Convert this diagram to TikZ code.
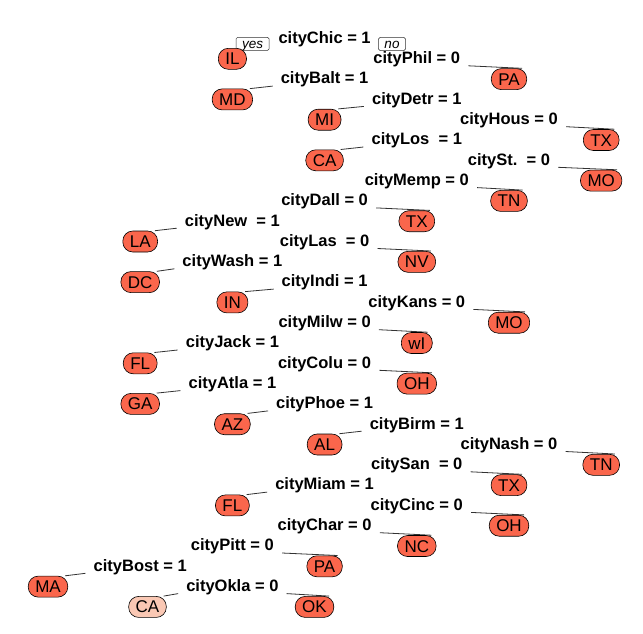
\documentclass[tikz,border=0pt]{standalone}
\usepackage{fontspec}
\setmainfont{Liberation Sans}
\usetikzlibrary{backgrounds}
\definecolor{leafred}{RGB}{250,102,76}
\definecolor{leaflight}{RGB}{250,200,180}
\definecolor{connc}{RGB}{50,50,50}
\tikzset{
  splitlab/.style={font=\fontsize{16.5}{16.5}\selectfont\bfseries, text height=12pt, text depth=0pt, inner xsep=8pt, inner ysep=2pt},
  leafbox/.style={draw=black, line width=0.6pt, fill=leafred, rounded corners=10pt, font=\fontsize{17}{17}\selectfont, text height=12pt, text depth=0pt, inner xsep=7pt, inner ysep=4.5pt, yshift=-1.2pt},
  leaflt/.style={leafbox, fill=leaflight},
  ynbox/.style={draw=black!80, line width=0.5pt, fill=white, rounded corners=1.5pt, font=\fontsize{13.5}{13.5}\selectfont\itshape, text height=9.5pt, text depth=0pt, inner xsep=6pt, inner ysep=1.8pt},
  conn/.style={draw=connc, line width=0.8pt}
}
\begin{document}
\begin{tikzpicture}[x=1pt,y=-1pt]
\path[use as bounding box] (0,0) rectangle (643,633);
% split labels
\node[splitlab] (s1) at (324.6,37.3) {cityChic = 1};
\node[splitlab] (s2) at (416.8,57.6) {cityPhil = 0};
\node[splitlab] (s3) at (324.6,77.9) {cityBalt = 1};
\node[splitlab] (s4) at (416.8,98.2) {cityDetr = 1};
\node[splitlab] (s5) at (509,118.5) {cityHous = 0};
\node[splitlab] (s6) at (416.8,138.8) {cityLos\ \ = 1};
\node[splitlab] (s7) at (509,159.1) {citySt.\ \ = 0};
\node[splitlab] (s8) at (416.8,179.4) {cityMemp = 0};
\node[splitlab] (s9) at (324.6,199.7) {cityDall = 0};
\node[splitlab] (s10) at (232.4,220) {cityNew\ \ = 1};
\node[splitlab] (s11) at (324.6,240.3) {cityLas\ \ = 0};
\node[splitlab] (s12) at (232.4,260.6) {cityWash = 1};
\node[splitlab] (s13) at (324.6,280.9) {cityIndi = 1};
\node[splitlab] (s14) at (416.8,301.2) {cityKans = 0};
\node[splitlab] (s15) at (324.6,321.5) {cityMilw = 0};
\node[splitlab] (s16) at (232.4,341.8) {cityJack = 1};
\node[splitlab] (s17) at (324.6,362.1) {cityColu = 0};
\node[splitlab] (s18) at (232.4,382.4) {cityAtla = 1};
\node[splitlab] (s19) at (324.6,402.7) {cityPhoe = 1};
\node[splitlab] (s20) at (416.8,423) {cityBirm = 1};
\node[splitlab] (s21) at (509,443.3) {cityNash = 0};
\node[splitlab] (s22) at (416.8,463.6) {citySan\ \ = 0};
\node[splitlab] (s23) at (324.6,483.9) {cityMiam = 1};
\node[splitlab] (s24) at (416.8,504.2) {cityCinc = 0};
\node[splitlab] (s25) at (324.6,524.5) {cityChar = 0};
\node[splitlab] (s26) at (232.4,544.8) {cityPitt = 0};
\node[splitlab] (s27) at (140.2,565.1) {cityBost = 1};
\node[splitlab] (s28) at (232.4,585.4) {cityOkla = 0};
% yes / no
\node[ynbox] (yes) at (252.6,43.8) {yes};
\node[ynbox] (no) at (392,44) {no};
% leaves
\node[leafbox] (f1) at (232.4,57.6) {IL};
\node[leafbox] (f2) at (509,77.9) {PA};
\node[leafbox] (f3) at (232.4,98.2) {MD};
\node[leafbox] (f4) at (324.6,118.5) {MI};
\node[leafbox] (f5) at (601.2,138.8) {TX};
\node[leafbox] (f6) at (324.6,159.1) {CA};
\node[leafbox] (f7) at (601.2,179.4) {MO};
\node[leafbox] (f8) at (509,199.7) {TN};
\node[leafbox] (f9) at (416.8,220) {TX};
\node[leafbox] (f10) at (140.2,240.3) {LA};
\node[leafbox] (f11) at (416.8,260.6) {NV};
\node[leafbox] (f12) at (140.2,280.9) {DC};
\node[leafbox] (f13) at (232.4,301.2) {IN};
\node[leafbox] (f14) at (509,321.5) {MO};
\node[leafbox] (f15) at (416.8,341.8) {wI};
\node[leafbox] (f16) at (140.2,362.1) {FL};
\node[leafbox] (f17) at (416.8,382.4) {OH};
\node[leafbox] (f18) at (140.2,402.7) {GA};
\node[leafbox] (f19) at (232.4,423) {AZ};
\node[leafbox] (f20) at (324.6,443.3) {AL};
\node[leafbox] (f21) at (601.2,463.6) {TN};
\node[leafbox] (f22) at (509,483.9) {TX};
\node[leafbox] (f23) at (232.4,504.2) {FL};
\node[leafbox] (f24) at (509,524.5) {OH};
\node[leafbox] (f25) at (416.8,544.8) {NC};
\node[leafbox] (f26) at (324.6,565.1) {PA};
\node[leafbox] (f27) at (48,585.4) {MA};
\node[leaflt] (f28a) at (147.5,605.7) {CA};
\node[leafbox] (f28b) at (314.5,605.7) {OK};
% connectors
\begin{pgfonlayer}{background}
\draw[conn] (s2.south east) -- ([xshift=-5pt]f2.north east);
\draw[conn] (s3.south west) -- ([xshift=-3pt]f3.north east);
\draw[conn] (s4.south west) -- ([xshift=-3pt]f4.north east);
\draw[conn] (s5.south east) -- ([xshift=-5pt]f5.north east);
\draw[conn] (s6.south west) -- ([xshift=-3pt]f6.north east);
\draw[conn] (s7.south east) -- ([xshift=-5pt]f7.north east);
\draw[conn] (s8.south east) -- ([xshift=-5pt]f8.north east);
\draw[conn] (s9.south east) -- ([xshift=-5pt]f9.north east);
\draw[conn] (s10.south west) -- ([xshift=-3pt]f10.north east);
\draw[conn] (s11.south east) -- ([xshift=-5pt]f11.north east);
\draw[conn] (s12.south west) -- ([xshift=-3pt]f12.north east);
\draw[conn] (s13.south west) -- ([xshift=-3pt]f13.north east);
\draw[conn] (s14.south east) -- ([xshift=-5pt]f14.north east);
\draw[conn] (s15.south east) -- ([xshift=-5pt]f15.north east);
\draw[conn] (s16.south west) -- ([xshift=-3pt]f16.north east);
\draw[conn] (s17.south east) -- ([xshift=-5pt]f17.north east);
\draw[conn] (s18.south west) -- ([xshift=-3pt]f18.north east);
\draw[conn] (s19.south west) -- ([xshift=-3pt]f19.north east);
\draw[conn] (s20.south west) -- ([xshift=-3pt]f20.north east);
\draw[conn] (s21.south east) -- ([xshift=-5pt]f21.north east);
\draw[conn] (s22.south east) -- ([xshift=-5pt]f22.north east);
\draw[conn] (s23.south west) -- ([xshift=-3pt]f23.north east);
\draw[conn] (s24.south east) -- ([xshift=-5pt]f24.north east);
\draw[conn] (s25.south east) -- ([xshift=-5pt]f25.north east);
\draw[conn] (s26.south east) -- ([xshift=-5pt]f26.north east);
\draw[conn] (s27.south west) -- ([xshift=-3pt]f27.north east);
\draw[conn] (s28.south west) -- ([xshift=-3pt]f28a.north east);
\draw[conn] (s28.south east) -- ([xshift=-5pt]f28b.north east);
\end{pgfonlayer}
\end{tikzpicture}
\end{document}
